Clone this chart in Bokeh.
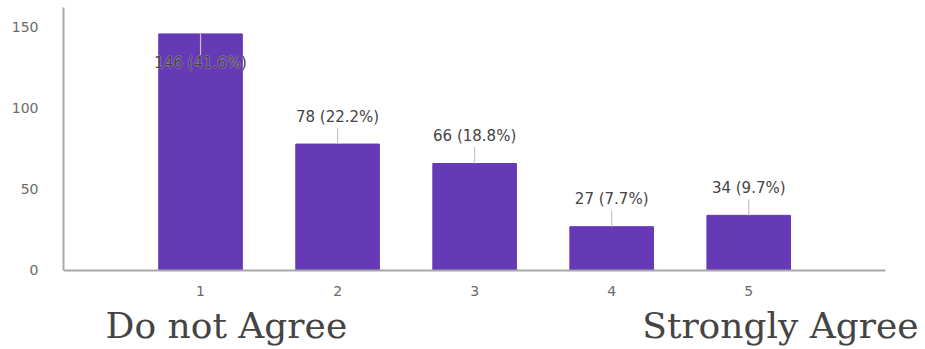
from bokeh.plotting import figure
from bokeh.models import ColumnDataSource, Range1d, FixedTicker
from bokeh.core.properties import value
from bokeh.embed import file_html
from bokeh.resources import INLINE

categories = [1, 2, 3, 4, 5]
counts = [146, 78, 66, 27, 34]
percents = ["41.6%", "22.2%", "18.8%", "7.7%", "9.7%"]
y_ticks = [0, 50, 100, 150]
left_caption = "Do not Agree"
right_caption = "Strongly Agree"

BAR_COLOR = "#6639b7"
Y_MAX = 162.3
Y_MIN = -48.8   # room below the baseline for the scale captions
X_MAX = 6.29

labels = [f"{c} ({p})" for c, p in zip(counts, percents)]
lab_y, seg_y0, seg_y1 = [], [], []
for c in counts:
    if c + 17 < 150:
        lab_y.append(c + 17)
        seg_y0.append(c)
        seg_y1.append(c + 10)
    else:
        lab_y.append(c - 18)
        seg_y0.append(c)
        seg_y1.append(c - 13)

src = ColumnDataSource(dict(x=categories, top=counts, label=labels,
                            ly=lab_y, sy0=seg_y0, sy1=seg_y1))

p = figure(width=925, height=349, output_backend="svg", toolbar_location=None,
           x_range=Range1d(0, X_MAX), y_range=Range1d(Y_MIN, Y_MAX),
           min_border_left=63, min_border_right=0, min_border_top=7,
           min_border_bottom=0)
p.outline_line_color = None
p.grid.visible = False
p.background_fill_color = "white"
p.border_fill_color = "white"

p.vbar(x="x", top="top", width=0.61, bottom=0, source=src,
       fill_color=BAR_COLOR, line_color=BAR_COLOR)
p.segment(x0="x", y0="sy0", x1="x", y1="sy1", source=src,
          line_color="#c4c4c4", line_width=1.2)

for dx, dy in [(-1, 0), (1, 0), (0, -1), (0, 1)]:
    p.text(x="x", y="ly", text="label", source=src, x_offset=dx, y_offset=dy,
           text_align="center", text_baseline="middle",
           text_font=value("DejaVu Sans"), text_font_size="15px",
           text_color="white", text_alpha=0.2)
p.text(x="x", y="ly", text="label", source=src,
       text_align="center", text_baseline="middle",
       text_font=value("DejaVu Sans"), text_font_size="15px",
       text_color="#444444")

p.yaxis.ticker = FixedTicker(ticks=y_ticks)
p.xaxis.ticker = FixedTicker(ticks=categories)
p.xaxis.fixed_location = 0
p.xaxis.bounds = (0, 6)
p.yaxis.bounds = (0, Y_MAX)
for ax in (p.xaxis, p.yaxis):
    ax.axis_line_color = "#a8a8a8"
    ax.axis_line_width = 2
    ax.major_tick_line_color = None
    ax.minor_tick_line_color = None
    ax.major_label_text_font = "DejaVu Sans"
    ax.major_label_text_color = "#6a6a6a"
    ax.major_label_text_font_size = "14px"
p.yaxis.major_label_standoff = 19
p.xaxis.major_label_standoff = 10

cap = ColumnDataSource(dict(x=[0.307, 6.24], y=[-34.0, -34.0],
                            t=[left_caption, right_caption],
                            a=["left", "right"]))
p.text(x="x", y="y", text="t", source=cap, text_align="a",
       text_baseline="alphabetic", text_font=value("DejaVu Serif"),
       text_font_size="36px", text_color="#444444")

open("out.html", "w").write(file_html(p, INLINE))
